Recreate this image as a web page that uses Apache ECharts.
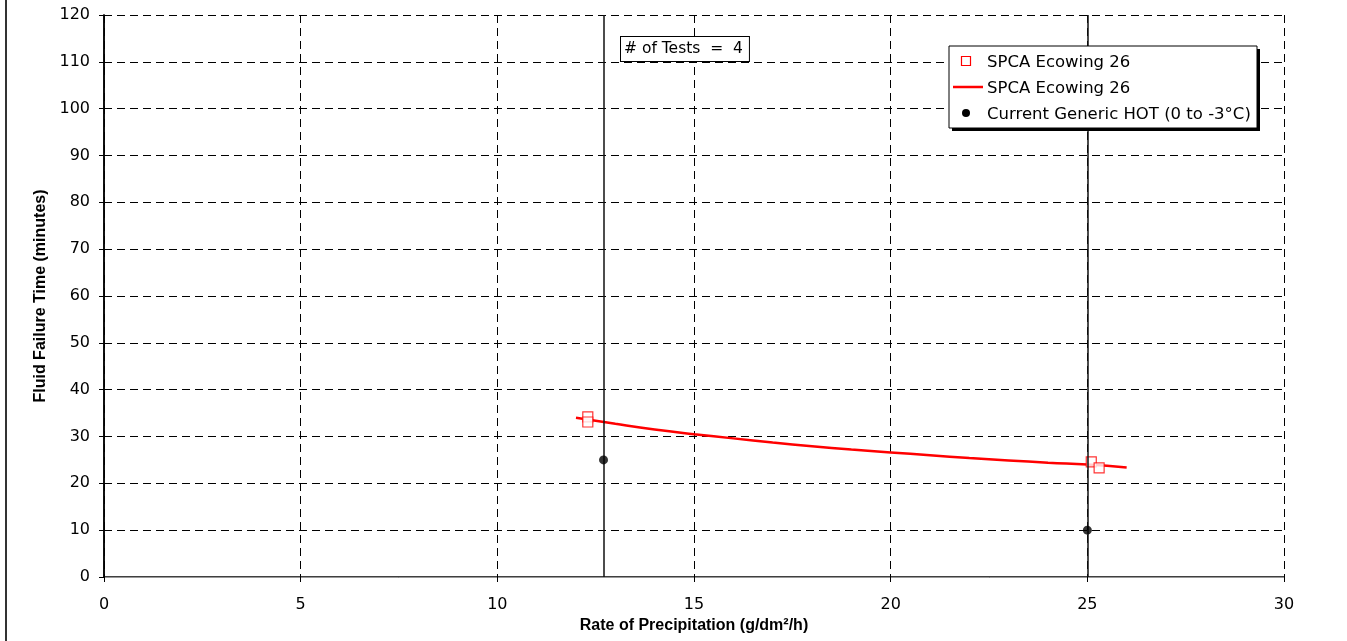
<!DOCTYPE html>
<html>
<head>
<meta charset="utf-8">
<script src="https://cdn.jsdelivr.net/npm/echarts@6/dist/echarts.min.js"></script>
<style>html,body{margin:0;padding:0;background:#fff;}#c{width:1347px;height:641px;}</style>
</head>
<body>
<div id="c"></div>
<script>
// Data
var squareX = [12.3, 12.3, 25.1, 25.3];
var squareY = [34.2, 33.1, 24.6, 23.3];
var fitX = [12, 13, 14, 15, 16, 17, 18, 19, 20, 21, 22, 23, 24, 25, 26];
var fitY = [34.0, 32.7, 31.5, 30.5, 29.6, 28.7, 27.9, 27.2, 26.6, 26.0, 25.4, 24.9, 24.4, 24.0, 23.4];
var hotX = [12.7, 25];
var hotY = [25, 10];
var refLinesX = [12.7, 25];
var seriesNames = ['SPCA Ecowing 26', 'SPCA Ecowing 26', 'Current Generic HOT (0 to -3\u00B0C)'];
var xTitle = 'Rate of Precipitation (g/dm\u00B2/h)';
var yTitle = 'Fluid Failure Time (minutes)';
var noteText = '# of Tests  =  4';

function pairs(xs, ys) { return xs.map(function (x, i) { return [x, ys[i]]; }); }

var chart = echarts.init(document.getElementById('c'), null, { renderer: 'canvas' });
var font = 'DejaVu Sans';
var dash = [8, 5];

// legend drawn as graphic (box with hard shadow)
var LX = 949, LY = 46, LW = 308, LH = 82;
var rowY = [61, 87, 113];
var legendGraphics = [
  { type: 'rect', shape: { x: LX + 3, y: LY + 3, width: LW, height: LH }, style: { fill: '#000' }, z: 100 },
  { type: 'rect', shape: { x: LX, y: LY, width: LW, height: LH }, style: { fill: '#fff', stroke: '#000', lineWidth: 1 }, z: 101 },
  { type: 'rect', shape: { x: 961.5, y: rowY[0] - 4.5, width: 9, height: 9 }, style: { fill: '#fff', stroke: '#ff0000', lineWidth: 1.2 }, z: 102 },
  { type: 'line', shape: { x1: 953, y1: rowY[1], x2: 983, y2: rowY[1] }, style: { stroke: '#ff0000', lineWidth: 2.5 }, z: 102 },
  { type: 'circle', shape: { cx: 966, cy: rowY[2], r: 4 }, style: { fill: '#000' }, z: 102 }
];
seriesNames.forEach(function (n, i) {
  legendGraphics.push({ type: 'text', x: 987, y: rowY[i] + 1.5, z: 102,
    style: { text: n, font: '16.5px "DejaVu Sans"', fill: '#000', verticalAlign: 'middle' } });
});

chart.setOption({
  animation: false,
  backgroundColor: '#fff',
  grid: { left: 104, right: 63, top: 15, bottom: 64, containLabel: false },
  xAxis: [{
    type: 'value', min: 0, max: 30, interval: 5,
    name: xTitle, nameLocation: 'middle', nameGap: 41,
    nameTextStyle: { fontFamily: 'Liberation Sans', fontWeight: 'bold', fontSize: 16, color: '#000' },
    axisLine: { show: true, onZero: false, lineStyle: { color: '#000', width: 1.5 } },
    axisTick: { show: true, length: 5, lineStyle: { color: '#000' } },
    axisLabel: { fontFamily: font, fontSize: 16, color: '#000', margin: 20 },
    splitLine: { show: true, lineStyle: { color: '#000', type: dash, width: 1 } }
  }, {
    type: 'value', min: 0, max: 30, position: 'top',
    axisLine: { show: true, lineStyle: { color: '#999', width: 1 } },
    axisTick: { show: false }, axisLabel: { show: false }, splitLine: { show: false }
  }],
  yAxis: [{
    type: 'value', min: 0, max: 120, interval: 10,
    name: yTitle, nameLocation: 'middle', nameGap: 54, nameRotate: 90,
    nameTextStyle: { fontFamily: 'Liberation Sans', fontWeight: 'bold', fontSize: 16, color: '#000' },
    axisLine: { show: true, onZero: false, lineStyle: { color: '#000', width: 1.5 } },
    axisTick: { show: true, length: 5, lineStyle: { color: '#000' } },
    axisLabel: { fontFamily: font, fontSize: 16, color: '#000', margin: 14 },
    splitLine: { show: true, lineStyle: { color: '#000', type: dash, width: 1 } }
  }, {
    type: 'value', min: 0, max: 120, position: 'right',
    axisLine: { show: true, lineStyle: { color: '#000', width: 1.5 } },
    axisTick: { show: false }, axisLabel: { show: false }, splitLine: { show: false }
  }],
  graphic: [
    { type: 'line', shape: { x1: 6, y1: 0, x2: 6, y2: 641 }, style: { stroke: '#333', lineWidth: 2 } },
    { type: 'text', left: 620, top: 36, z: 100,
      style: { text: noteText, font: '15.5px "DejaVu Sans"', fill: '#000', backgroundColor: '#fff',
               borderColor: '#000', borderWidth: 1, padding: [4, 6, 4, 3] } }
  ].concat(legendGraphics),
  series: [
    {
      name: seriesNames[0], type: 'scatter', symbol: 'rect', symbolSize: 10,
      itemStyle: { color: '#fff', borderColor: '#ff0000', borderWidth: 1.2 }, z: 4,
      data: pairs(squareX, squareY),
      markLine: {
        silent: true, symbol: 'none', label: { show: false },
        lineStyle: { color: '#111', type: 'solid', width: 1.5 },
        data: refLinesX.map(function (x) { return { xAxis: x }; })
      }
    },
    {
      name: seriesNames[1], type: 'line', smooth: true, symbol: 'none', showSymbol: false,
      lineStyle: { color: '#ff0000', width: 2.5 }, itemStyle: { color: '#ff0000' }, z: 3,
      data: pairs(fitX, fitY)
    },
    {
      name: seriesNames[2], type: 'scatter', symbol: 'circle', symbolSize: 9,
      itemStyle: { color: '#000' }, z: 5,
      data: pairs(hotX, hotY)
    }
  ]
});
</script>
</body>
</html>
